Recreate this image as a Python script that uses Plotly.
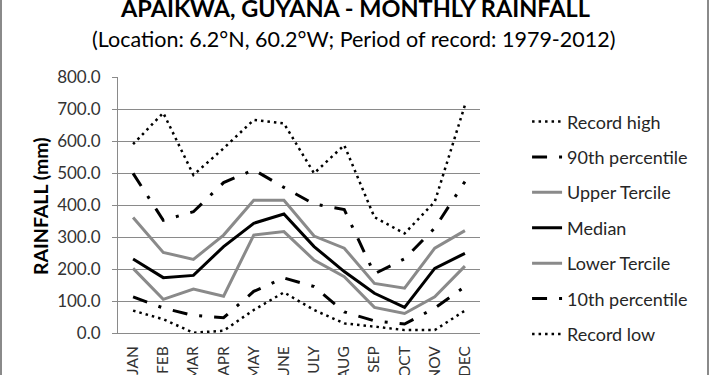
import plotly.graph_objects as go

months = ["JAN", "FEB", "MAR", "APR", "MAY", "JUNE", "JULY", "AUG", "SEP", "OCT", "NOV", "DEC"]
record_high = [590, 688, 494, 577, 666, 655, 499, 587, 362, 311, 410, 712]
p90 = [499, 352, 379, 470, 510, 455, 403, 386, 185, 232, 328, 473]
upper_tercile = [361, 252, 230, 306, 415, 415, 303, 265, 155, 140, 265, 320]
median = [231, 173, 180, 270, 343, 372, 270, 192, 124, 80, 202, 249]
lower_tercile = [202, 105, 137, 115, 306, 317, 228, 176, 80, 61, 113, 209]
p10 = [113, 78, 55, 48, 130, 172, 145, 66, 38, 28, 78, 145]
record_low = [70, 43, 1, 7, 72, 127, 72, 30, 20, 9, 9, 70]
y_ticks = [0, 100, 200, 300, 400, 500, 600, 700, 800]

FONT = "Lato, 'Open Sans', sans-serif"
GRAY = "#8a8a8a"
DOT = "2.5px,4px"
DASHDOT = "15px,12px,3px,12px"

series = [
    ("Record high", record_high, "black", 2.5, DOT),
    ("90th percentile", p90, "black", 3, DASHDOT),
    ("Upper Tercile", upper_tercile, GRAY, 3, "solid"),
    ("Median", median, "black", 3, "solid"),
    ("Lower Tercile", lower_tercile, GRAY, 3, "solid"),
    ("10th percentile", p10, "black", 3, DASHDOT),
    ("Record low", record_low, "black", 2.5, DOT),
]

fig = go.Figure()
for i, (name, vals, color, w, dash) in enumerate(series):
    fig.add_trace(go.Scatter(
        x=months, y=vals, name=name, mode="lines",
        line=dict(color=color, width=w, dash=dash),
        legendgroup=f"g{i}",
    ))

fig.update_layout(
    width=710, height=375,
    margin=dict(l=118, r=230, t=77, b=42, autoexpand=False),
    paper_bgcolor="white", plot_bgcolor="white",
    font=dict(family=FONT, color="#333333"),
    showlegend=True,
    legend=dict(
        x=1.13, xanchor="left", y=0.897, yanchor="top",
        font=dict(size=18, color="#262626", family=FONT),
        tracegroupgap=9, traceorder="grouped",
        bgcolor="rgba(0,0,0,0)",
        maxheight=360,
    ),
    xaxis=dict(
        type="category", tickangle=-90, ticks="",
        tickfont=dict(size=15.5, color="#333333"),
        ticklabelstandoff=6, automargin=False,
        showgrid=False, showline=True, linecolor=GRAY, linewidth=1,
        range=[-0.5, 11.5],
    ),
    yaxis=dict(
        range=[0, 800], tickvals=y_ticks, tickformat=".1f",
        tickfont=dict(size=17, color="#333333"),
        ticks="outside", ticklen=5, tickcolor=GRAY,
        ticklabelstandoff=8, automargin=False,
        showgrid=True, gridcolor=GRAY, gridwidth=1,
        showline=True, linecolor=GRAY, linewidth=1,
        zeroline=False,
    ),
    annotations=[
        dict(text="<b>APAIKWA, GUYANA - MONTHLY RAINFALL</b>", xref="paper", yref="paper",
             x=(355 - 118) / 362, y=(333 - 8) / 256, xanchor="center", yanchor="middle",
             showarrow=False, font=dict(size=23.5, color="#000000", family=FONT)),
        dict(text="(Location: 6.2°N, 60.2°W; Period of record: 1979-2012)", xref="paper", yref="paper",
             x=(353 - 118) / 362, y=(333 - 39) / 256, xanchor="center", yanchor="middle",
             showarrow=False, font=dict(size=21.5, color="#000000", family=FONT)),
        dict(text="<b>RAINFALL (mm)</b>", xref="paper", yref="paper",
             x=(40 - 118) / 362, y=(333 - 206) / 256, xanchor="center", yanchor="middle",
             textangle=-90, showarrow=False, font=dict(size=19.5, color="#000000", family=FONT)),
    ],
    shapes=[
        dict(type="line", xref="paper", yref="paper", x0=(1 - 118) / 362, x1=(1 - 118) / 362,
             y0=-0.3, y1=1.4, line=dict(color=GRAY, width=2)),
        dict(type="line", xref="paper", yref="paper", x0=(708 - 118) / 362, x1=(708 - 118) / 362,
             y0=-0.3, y1=1.4, line=dict(color=GRAY, width=2)),
    ],
)

fig.write_html("out.html", config={"displayModeBar": False},
               post_script="document.body.style.margin='0';")
